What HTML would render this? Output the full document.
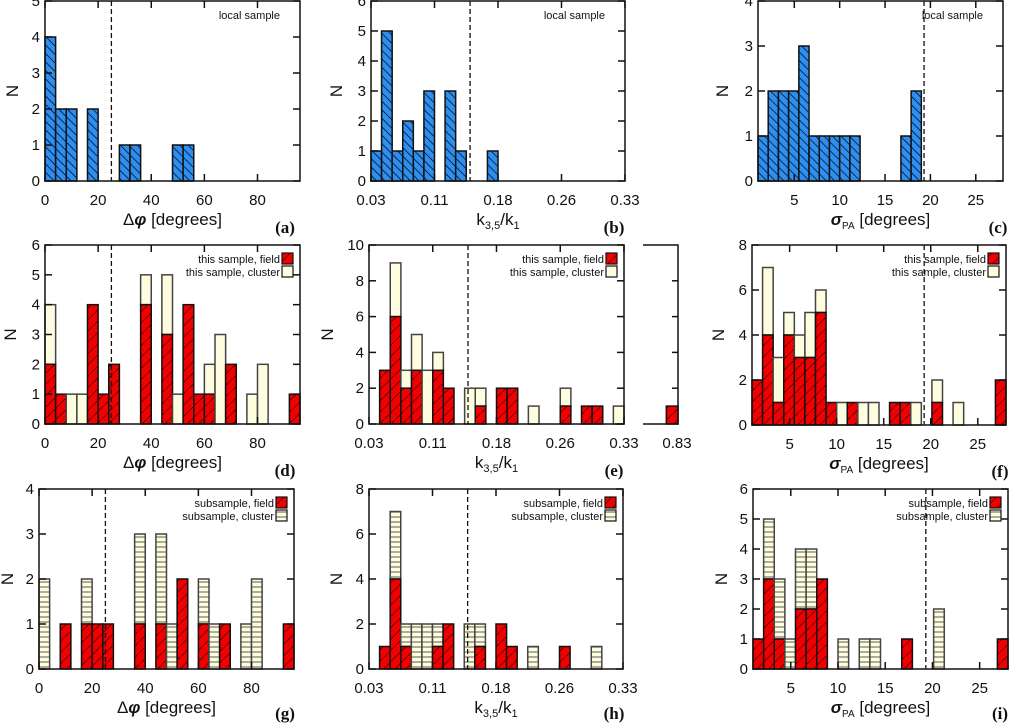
<!DOCTYPE html>
<html><head><meta charset="utf-8">
<style>
html,body{margin:0;padding:0;background:#fff;}
svg{display:block;font-family:"Liberation Sans","DejaVu Sans",sans-serif;}
.tk{font-size:15px;fill:#111;}
.ttl{font-size:17px;fill:#111;}
.lg{font-size:11px;fill:#111;}
.let{font-family:"Liberation Serif",serif;font-weight:bold;font-size:17px;fill:#111;}
</style></head>
<body>
<svg id="fig" width="1010" height="724" viewBox="0 0 1010 724" xmlns="http://www.w3.org/2000/svg">
<defs>
<pattern id="hBlue" patternUnits="userSpaceOnUse" width="6" height="6" patternTransform="rotate(-45)">
<rect width="6" height="6" fill="#2e8ff0"/><line x1="0" y1="0" x2="0" y2="6" stroke="#000" stroke-width="1.4"/></pattern>
<pattern id="hRed" patternUnits="userSpaceOnUse" width="8" height="8" patternTransform="rotate(45)">
<rect width="8" height="8" fill="#f00000"/><line x1="0" y1="0" x2="0" y2="8" stroke="#000" stroke-width="1"/></pattern>
<pattern id="hCream" patternUnits="userSpaceOnUse" width="6" height="5">
<rect width="6" height="5" fill="#fffde0"/><line x1="0" y1="2" x2="6" y2="2" stroke="#8a8a7a" stroke-width="1.4"/></pattern>
</defs>
</svg>
<script>
// ---- data (bin counts, 24 bins per panel) ----
const aTotal=[4,2,2,0,2,0,0,1,1,0,0,0,1,1,0,0,0,0,0,0,0,0,0,0];
const bTotal=[1,5,1,2,1,3,0,3,1,0,0,1,0,0,0,0,0,0,0,0,0,0,0,0];
const cTotal=[1,2,2,2,3,1,1,1,1,1,0,0,0,0,1,2,0,0,0,0,0,0,0,0];
const dField=[2,1,0,0,4,1,2,0,0,4,0,3,0,4,1,1,0,2,0,0,0,0,0,1];
const dTotal=[4,1,1,1,4,1,2,0,0,5,0,5,1,4,1,2,3,2,0,1,2,0,0,1];
const eField=[0,3,6,2,3,0,3,2,0,0,1,0,2,2,0,0,0,0,1,0,1,1,0,0];
const eTotal=[0,3,9,3,5,3,4,2,0,2,2,0,2,2,0,1,0,0,2,0,1,1,0,1];
const eBreakField=[0,0,1];
const fField=[2,4,1,4,3,3,5,1,0,1,0,0,0,1,1,0,0,1,0,0,0,0,0,2];
const fTotal=[2,7,3,5,4,5,6,1,1,1,1,1,0,1,1,1,0,2,0,1,0,0,0,2];
const gField=[0,0,1,0,1,1,1,0,0,1,0,1,0,2,0,1,0,1,0,0,0,0,0,1];
const gTotal=[2,0,1,0,2,1,1,0,0,3,0,3,1,2,0,2,1,1,0,1,2,0,0,1];
const hField=[0,1,4,1,0,0,1,2,0,0,1,0,2,1,0,0,0,0,1,0,0,0,0,0];
const hTotal=[0,1,7,2,2,2,2,2,0,2,2,0,2,1,0,1,0,0,1,0,0,1,0,0];
const iField=[1,3,1,0,2,2,3,0,0,0,0,0,0,0,1,0,0,0,0,0,0,0,0,1];
const iTotal=[1,5,3,1,4,4,3,0,1,0,1,1,0,0,1,0,0,2,0,0,0,0,0,1];
const phiTicks=[0,20,40,60,80];
const phiTickLabels=["0","20","40","60","80"];
const kTicks=[0.03,0.105,0.18,0.255,0.33];
const kTickLabels=["0.03","0.11","0.18","0.26","0.33"];
const sTicks=[5,10,15,20,25];
const sTickLabels=["5","10","15","20","25"];

const NS="http://www.w3.org/2000/svg";
const svg=document.getElementById('fig');
function mk(tag,attrs,parent){const e=document.createElementNS(NS,tag);for(const k in attrs)e.setAttribute(k,attrs[k]);(parent||svg).appendChild(e);return e;}

function panel(p){
  const g=mk('g',{});
  
  
  const sx=v=>p.x0+(v-p.xmin)/(p.xmax-p.xmin)*(p.x1-p.x0);
  const sy=v=>p.y1-v/p.ymax*(p.y1-p.y0);
  const bw=(p.x1-p.x0)/24;
  const n=p.total.length;
  for(let i=0;i<n;i++){
    const t=p.total[i], f=p.field?p.field[i]:0;
    const bx=p.x0+i*bw;
    if(t>f){
      const r=mk('rect',{x:bx,y:sy(t),width:bw,height:sy(f)-sy(t),fill:p.clusterFill,stroke:p.field?'#444':'#111','stroke-width':1.5},g);
      
      
    }
    if(p.field&&f>0){
      const r=mk('rect',{x:bx,y:sy(f),width:bw,height:p.y1-sy(f),fill:'url(#hRed)',stroke:'#111','stroke-width':1.5},g);
      
      
    }
  }
  const fr=mk('rect',{x:p.x0,y:p.y0,width:p.x1-p.x0,height:p.y1-p.y0,fill:'none',stroke:'#111','stroke-width':1.5},g);
  
  
  for(let v=0;v<=p.ymax;v+=p.ystep){
    const y=sy(v);
    mk('line',{x1:p.x0,y1:y,x2:p.x0+7,y2:y,stroke:'#111','stroke-width':1.5},g);
    mk('line',{x1:p.x1-7,y1:y,x2:p.x1,y2:y,stroke:'#111','stroke-width':1.5},g);
    const tl=mk('text',{x:p.x0-5,y:y+5,'text-anchor':'end',class:'tk'},g);
    tl.textContent=String(v);
    
    
  }
  p.xt.forEach((v,k)=>{
    const x=sx(v);
    mk('line',{x1:x,y1:p.y1,x2:x,y2:p.y1-7,stroke:'#111','stroke-width':1.5},g);
    mk('line',{x1:x,y1:p.y0,x2:x,y2:p.y0+7,stroke:'#111','stroke-width':1.5},g);
    const tl=mk('text',{x:x,y:p.y1+24,'text-anchor':'middle',class:'tk'},g);
    tl.textContent=p.xl[k];
    
    
  });
  const dl=mk('line',{x1:sx(p.dash),y1:p.y0,x2:sx(p.dash),y2:p.y1,stroke:'#111','stroke-width':1.3,'stroke-dasharray':'5,3'},g);
  
  
  const yt=mk('text',{x:p.nx,y:(p.y0+p.y1)/2,'text-anchor':'middle',class:'ttl',transform:`rotate(-90 ${p.nx} ${(p.y0+p.y1)/2})`,dy:5},g);
  yt.textContent='N';
  
  
  const xt=mk('text',{x:(p.x0+p.x1)/2,y:p.y1+44,'text-anchor':'middle',class:'ttl'},g);
  xt.innerHTML=p.xtitle;
  
  
  const lt=mk('text',{x:p.letX,y:p.y1+(p.letDy||52),'text-anchor':'middle',class:'let'},g);
  lt.textContent=p.letter;
  
  
  if(p.legend){
    p.legend.forEach((L,k)=>{
      const ly=p.y0+14+k*13;
      const t=mk('text',{x:p.x1-20,y:ly+4,'text-anchor':'end',class:'lg'},g);
      t.textContent=L.text;
      
      
      if(L.fill){
        const b=mk('rect',{x:p.x1-18,y:ly-6,width:11,height:11,fill:L.fill,stroke:'#111','stroke-width':1.2},g);
        
        
      }
    });
  }
  return {sx,sy,g};
}

const phiTitle='Δ<tspan font-style="italic" font-weight="bold">φ</tspan> [degrees]';
const kTitle='k<tspan font-size="11" dy="4">3,5</tspan><tspan dy="-4">/k</tspan><tspan font-size="11" dy="4">1</tspan>';
const sTitle='<tspan font-style="italic" font-weight="bold">σ</tspan><tspan font-size="10" dy="4">PA</tspan><tspan dy="-4"> [degrees]</tspan>';

panel({name:'panel-a',x0:45,x1:300,y0:1,y1:181,ymax:5,ystep:1,xmin:0,xmax:96,xt:phiTicks,xl:phiTickLabels,dash:25,total:aTotal,clusterFill:'url(#hBlue)',nx:13,xtitle:phiTitle,letter:'(a)',letX:285,legend:[{text:'local sample'}]});
panel({name:'panel-b',x0:371,x1:625,y0:1,y1:181,ymax:6,ystep:1,xmin:0.03,xmax:0.33,xt:kTicks,xl:kTickLabels,dash:0.147,total:bTotal,clusterFill:'url(#hBlue)',nx:337,xtitle:kTitle,letter:'(b)',letX:614,legend:[{text:'local sample'}]});
panel({name:'panel-c',x0:758,x1:1003,y0:1,y1:181,ymax:4,ystep:1,xmin:1,xmax:28,xt:sTicks,xl:sTickLabels,dash:19.3,total:cTotal,clusterFill:'url(#hBlue)',nx:723,xtitle:sTitle,letter:'(c)',letX:998,legend:[{text:'local sample'}]});

const legThis=[{text:'this sample, field',fill:'url(#hRed)'},{text:'this sample, cluster',fill:'#fffde0'}];
const legSub=[{text:'subsample, field',fill:'url(#hRed)'},{text:'subsample, cluster',fill:'url(#hCream)'}];
panel({name:'panel-d',x0:45,x1:300,y0:245,y1:424,ymax:6,ystep:1,xmin:0,xmax:96,xt:phiTicks,xl:phiTickLabels,dash:25,field:dField,total:dTotal,clusterFill:'#fffde0',nx:11,xtitle:phiTitle,letter:'(d)',letX:285,legend:legThis});
panel({name:'panel-e',x0:369,x1:624,y0:245,y1:424,ymax:10,ystep:2,xmin:0.03,xmax:0.33,xt:kTicks,xl:kTickLabels,dash:0.1465,field:eField,total:eTotal,clusterFill:'#fffde0',nx:328,xtitle:kTitle,letter:'(e)',letX:614,legend:legThis});
panel({name:'panel-f',x0:752,x1:1006,y0:245,y1:425,ymax:8,ystep:2,xmin:1,xmax:28,xt:sTicks,xl:sTickLabels,dash:19.3,field:fField,total:fTotal,clusterFill:'#fffde0',nx:719,xtitle:sTitle,letter:'(f)',letX:1000,legend:legThis});
panel({name:'panel-g',x0:39,x1:294,y0:489,y1:669,ymax:4,ystep:1,xmin:0,xmax:96,xt:phiTicks,xl:phiTickLabels,dash:25,field:gField,total:gTotal,clusterFill:'url(#hCream)',nx:8,xtitle:phiTitle,letter:'(g)',letX:285,letDy:50,legend:legSub});
panel({name:'panel-h',x0:369,x1:623,y0:489,y1:669,ymax:8,ystep:2,xmin:0.03,xmax:0.33,xt:kTicks,xl:kTickLabels,dash:0.1465,field:hField,total:hTotal,clusterFill:'url(#hCream)',nx:337,xtitle:kTitle,letter:'(h)',letX:614,letDy:50,legend:legSub});
panel({name:'panel-i',x0:753,x1:1008,y0:489,y1:669,ymax:6,ystep:1,xmin:1,xmax:28,xt:sTicks,xl:sTickLabels,dash:19.3,field:iField,total:iTotal,clusterFill:'url(#hCream)',nx:722,xtitle:sTitle,letter:'(i)',letX:1000,letDy:50,legend:legSub});

(function(){
  const x0=643,x1=678,y0=245,y1=424,ymax=10;
  const g=mk('g',{});
  
  
  const bw=(x1-x0)/eBreakField.length;
  const sy=v=>y1-v/ymax*(y1-y0);
  eBreakField.forEach((v,i)=>{
    if(v>0){
      const r=mk('rect',{x:x0+i*bw,y:sy(v),width:bw,height:y1-sy(v),fill:'url(#hRed)',stroke:'#111','stroke-width':1.5},g);
      
      
    }
  });
  mk('polyline',{points:`${x0},${y0} ${x1},${y0} ${x1},${y1} ${x0},${y1}`,fill:'none',stroke:'#111','stroke-width':1.5},g);
  for(let v=2;v<ymax;v+=2){mk('line',{x1:x1-6,y1:sy(v),x2:x1,y2:sy(v),stroke:'#111','stroke-width':1.5},g);}
  const t=mk('text',{x:677,y:y1+24,'text-anchor':'middle',class:'tk'},g);
  t.textContent='0.83';
  
  
})();
</script>
</body></html>
